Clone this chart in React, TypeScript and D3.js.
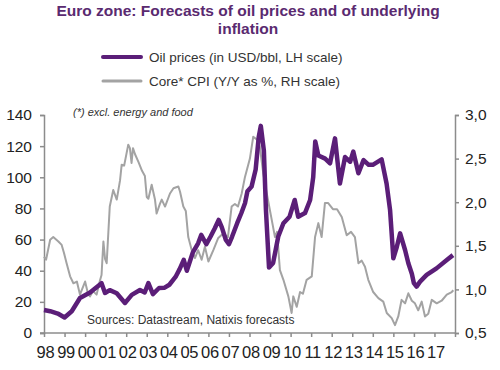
import { useEffect, useRef } from "react";
import * as d3 from "d3";

// oil prices, USD/bbl (left scale)
const oilYears = [
  1998.0, 1998.3, 1998.67, 1999.0, 1999.35, 1999.75, 2000.24, 2000.8, 2000.97, 2001.2,
  2001.54, 2001.94, 2002.27, 2002.67, 2002.9, 2003.08, 2003.3, 2003.6, 2003.85, 2004.1,
  2004.4, 2004.6, 2004.8, 2004.95, 2005.25, 2005.5, 2005.65, 2005.9, 2006.1, 2006.3,
  2006.5, 2006.65, 2006.85, 2007.0, 2007.15, 2007.4, 2007.6, 2007.78, 2007.9, 2008.1,
  2008.3, 2008.45, 2008.55, 2008.7, 2008.8, 2008.95, 2009.15, 2009.4, 2009.65, 2009.95,
  2010.2, 2010.37, 2010.7, 2010.95, 2011.1, 2011.2, 2011.35, 2011.68, 2011.92, 2012.16,
  2012.4, 2012.65, 2012.9, 2013.05, 2013.3, 2013.55, 2013.8, 2014.0, 2014.43, 2014.67,
  2014.84, 2015.0, 2015.17, 2015.33, 2015.57, 2015.73, 2015.9, 2016.0, 2016.13, 2016.3,
  2016.62, 2017.1, 2017.6, 2017.9,
];
const oilValues = [
  14.8, 14, 12.5, 10, 14, 22.5, 26, 32, 25.7, 27.5,
  25.5, 19.3, 24.5, 27.6, 26, 32, 25, 28.9, 29, 31,
  36, 41, 47, 40, 52, 57.6, 63, 57, 61.8, 67,
  72.6, 68, 59.7, 57, 61.8, 70.5, 76.9, 83.3, 91, 94,
  105, 126, 133, 117, 79, 42, 45, 62, 70.5, 74.7,
  85.4, 74.7, 77, 85.4, 100, 123, 114, 112, 109, 125,
  96, 113, 110, 116.5, 102.6, 111, 108, 108, 111.5, 96,
  79, 48, 55.4, 64, 53.3, 44.8, 38, 32, 29.8, 33,
  37.3, 41.5, 46.9, 50,
];

// core CPI, Y/Y % (right scale)
const cpiYears = [
  1998.0, 1998.1, 1998.3, 1998.45, 1998.7, 1998.86, 1998.97, 1999.1, 1999.27, 1999.43,
  1999.6, 1999.75, 2000.0, 2000.14, 2000.24, 2000.38, 2000.56, 2000.72, 2000.8, 2000.89,
  2000.97, 2001.05, 2001.2, 2001.37, 2001.54, 2001.7, 2001.78, 2001.9, 2002.1, 2002.18,
  2002.26, 2002.33, 2002.43, 2002.6, 2002.77, 2002.91, 2003.0, 2003.08, 2003.24, 2003.4,
  2003.48, 2003.64, 2003.73, 2003.89, 2004.13, 2004.3, 2004.54, 2004.62, 2004.78, 2004.9,
  2005.02, 2005.19, 2005.35, 2005.5, 2005.67, 2005.83, 2006.0, 2006.24, 2006.48, 2006.72,
  2006.95, 2007.13, 2007.29, 2007.44, 2007.62, 2007.78, 2008.02, 2008.18, 2008.35, 2008.5,
  2008.67, 2008.84, 2009.08, 2009.24, 2009.34, 2009.48, 2009.65, 2009.89, 2010.05, 2010.13,
  2010.3, 2010.46, 2010.6, 2010.78, 2011.03, 2011.19, 2011.35, 2011.51, 2011.67, 2011.83,
  2012.06, 2012.26, 2012.49, 2012.73, 2012.94, 2013.13, 2013.3, 2013.46, 2013.62, 2013.78,
  2014.02, 2014.27, 2014.51, 2014.68, 2014.92, 2015.08, 2015.24, 2015.4, 2015.57, 2015.73,
  2015.9, 2016.05, 2016.21, 2016.38, 2016.54, 2016.7, 2016.87, 2017.11, 2017.35, 2017.6,
  2017.84, 2017.92,
];
const cpiValues = [
  1.375, 1.34, 1.57, 1.6, 1.55, 1.51, 1.42, 1.3, 1.15, 1.07,
  1.09, 0.94, 1.09, 0.95, 0.92, 0.98, 0.94, 1.1, 1.165, 1.55,
  1.35, 1.3, 1.95, 2.14, 2.03, 2.25, 2.43, 2.42, 2.66, 2.62,
  2.45, 2.62, 2.55, 2.46, 2.36, 2.3, 2.06, 2.04, 2.2, 2.03,
  1.87, 1.98, 2.03, 1.95, 2.1, 2.16, 2.18, 2.12, 1.95, 1.9,
  1.6, 1.45, 1.36, 1.45, 1.34, 1.49, 1.32, 1.45, 1.59, 1.64,
  1.6, 1.95, 1.98, 1.95, 2.1, 2.29, 2.5, 2.75, 2.72, 2.64,
  2.33, 2.1, 1.8, 1.6, 1.66, 1.22, 1.11, 0.92, 0.73, 0.92,
  0.8, 0.97, 0.95, 1.11, 1.15, 1.6, 1.76, 1.6, 1.99, 1.99,
  1.92, 1.92, 1.83, 1.62, 1.66, 1.6, 1.3, 1.33, 1.26, 1.11,
  0.97, 0.9, 0.86, 0.73, 0.67, 0.59, 0.69, 0.88, 0.84, 0.955,
  0.87, 0.84, 0.76, 0.86, 0.69, 0.72, 0.88, 0.84, 0.87, 0.94,
  0.97, 0.99,
];

const leftTicks = [0, 20, 40, 60, 80, 100, 120, 140];
const rightTicks = [0.5, 1.0, 1.5, 2.0, 2.5, 3.0];
const yearTicks = d3.range(1998, 2019);
const yearLabels = [
  "98", "99", "00", "01", "02", "03", "04", "05", "06", "07",
  "08", "09", "10", "11", "12", "13", "14", "15", "16", "17",
];

const purple = "#5b1e78";
const grey = "#a3a3a3";
const axisColor = "#8c8c8c";
const font = "'Liberation Sans', Arial, sans-serif";

export default function App() {
  const svgRef = useRef(null);

  useEffect(() => {
    const svg = d3.select(svgRef.current);
    svg.selectAll("*").remove();

    const width = 500;
    const height = 370;
    svg.attr("width", width).attr("height", height).style("font-family", font);

    const x = d3.scaleLinear().domain([1998, 2018]).range([44, 455]);
    const yOil = d3.scaleLinear().domain([0, 140]).range([333, 115]);
    const yCpi = d3.scaleLinear().domain([0.5, 3.0]).range([333, 115]);

    // title
    const title = svg
      .append("text")
      .attr("text-anchor", "middle")
      .attr("fill", "#5a2a70")
      .attr("font-weight", "bold")
      .attr("font-size", 15.5);
    title.append("tspan").attr("x", 248).attr("y", 15.5).text("Euro zone: Forecasts of oil prices and of underlying");
    title.append("tspan").attr("x", 248).attr("y", 33.5).text("inflation");

    // legend
    const legend = [
      { label: "Oil prices (in USD/bbl, LH scale)", color: purple, w: 4, y: 57 },
      { label: "Core* CPI (Y/Y as %, RH scale)", color: grey, w: 3, y: 81 },
    ];
    legend.forEach((item) => {
      svg
        .append("line")
        .attr("x1", 103)
        .attr("x2", 141)
        .attr("y1", item.y)
        .attr("y2", item.y)
        .attr("stroke", item.color)
        .attr("stroke-width", item.w)
        .attr("stroke-linecap", "round");
      svg
        .append("text")
        .attr("x", 149)
        .attr("y", item.y + 4.5)
        .attr("font-size", 13.5)
        .attr("fill", "#333")
        .text(item.label);
    });

    // axes
    const leftAxis = svg
      .append("g")
      .attr("transform", "translate(44,0)")
      .call(d3.axisLeft(yOil).tickValues(leftTicks).tickSize(4).tickPadding(8));
    const rightAxis = svg
      .append("g")
      .attr("transform", "translate(455,0)")
      .call(
        d3
          .axisRight(yCpi)
          .tickValues(rightTicks)
          .tickSize(4)
          .tickPadding(6)
          .tickFormat((d) => d3.format(".1f")(d).replace(".", ","))
      );
    const bottomAxis = svg
      .append("g")
      .attr("transform", "translate(0,333)")
      .call(d3.axisBottom(x).tickValues(yearTicks).tickSize(4).tickFormat(() => ""));

    [leftAxis, rightAxis, bottomAxis].forEach((g) => {
      g.select(".domain").attr("stroke", axisColor).attr("stroke-width", 1.5);
      g.selectAll(".tick line").attr("stroke", axisColor).attr("stroke-width", 1.5);
      g.selectAll("text").attr("font-size", 15.5).attr("font-family", font).attr("fill", "#222");
    });
    bottomAxis.select(".domain").attr("d", "M40,0H455");

    svg
      .append("g")
      .selectAll("text")
      .data(yearLabels)
      .join("text")
      .attr("x", (d, i) => x(1998 + i) + 1.5)
      .attr("y", 358)
      .attr("text-anchor", "middle")
      .attr("font-size", 16.5)
      .attr("letter-spacing", -0.3)
      .attr("fill", "#222")
      .text((d) => d);

    // notes
    svg
      .append("text")
      .attr("x", 73)
      .attr("y", 116)
      .attr("font-size", 11)
      .attr("font-style", "italic")
      .attr("fill", "#333")
      .text("(*) excl. energy and food");
    svg
      .append("text")
      .attr("x", 87)
      .attr("y", 324)
      .attr("font-size", 12)
      .attr("fill", "#333")
      .text("Sources: Datastream, Natixis forecasts");

    // series
    const cpiLine = d3
      .line()
      .x((d) => x(d[0]))
      .y((d) => yCpi(d[1]));
    svg
      .append("path")
      .datum(cpiYears.map((yr, i) => [yr, cpiValues[i]]))
      .attr("d", cpiLine)
      .attr("fill", "none")
      .attr("stroke", grey)
      .attr("stroke-width", 2)
      .attr("stroke-linejoin", "round");

    const oilLine = d3
      .line()
      .x((d) => x(d[0]))
      .y((d) => yOil(d[1]));
    svg
      .append("path")
      .datum(oilYears.map((yr, i) => [yr, oilValues[i]]))
      .attr("d", oilLine)
      .attr("fill", "none")
      .attr("stroke", purple)
      .attr("stroke-width", 4.5)
      .attr("stroke-linejoin", "round");
  }, []);

  return (
    <div style={{ position: "absolute", left: 0, top: 0 }}>
      <svg ref={svgRef} />
    </div>
  );
}
